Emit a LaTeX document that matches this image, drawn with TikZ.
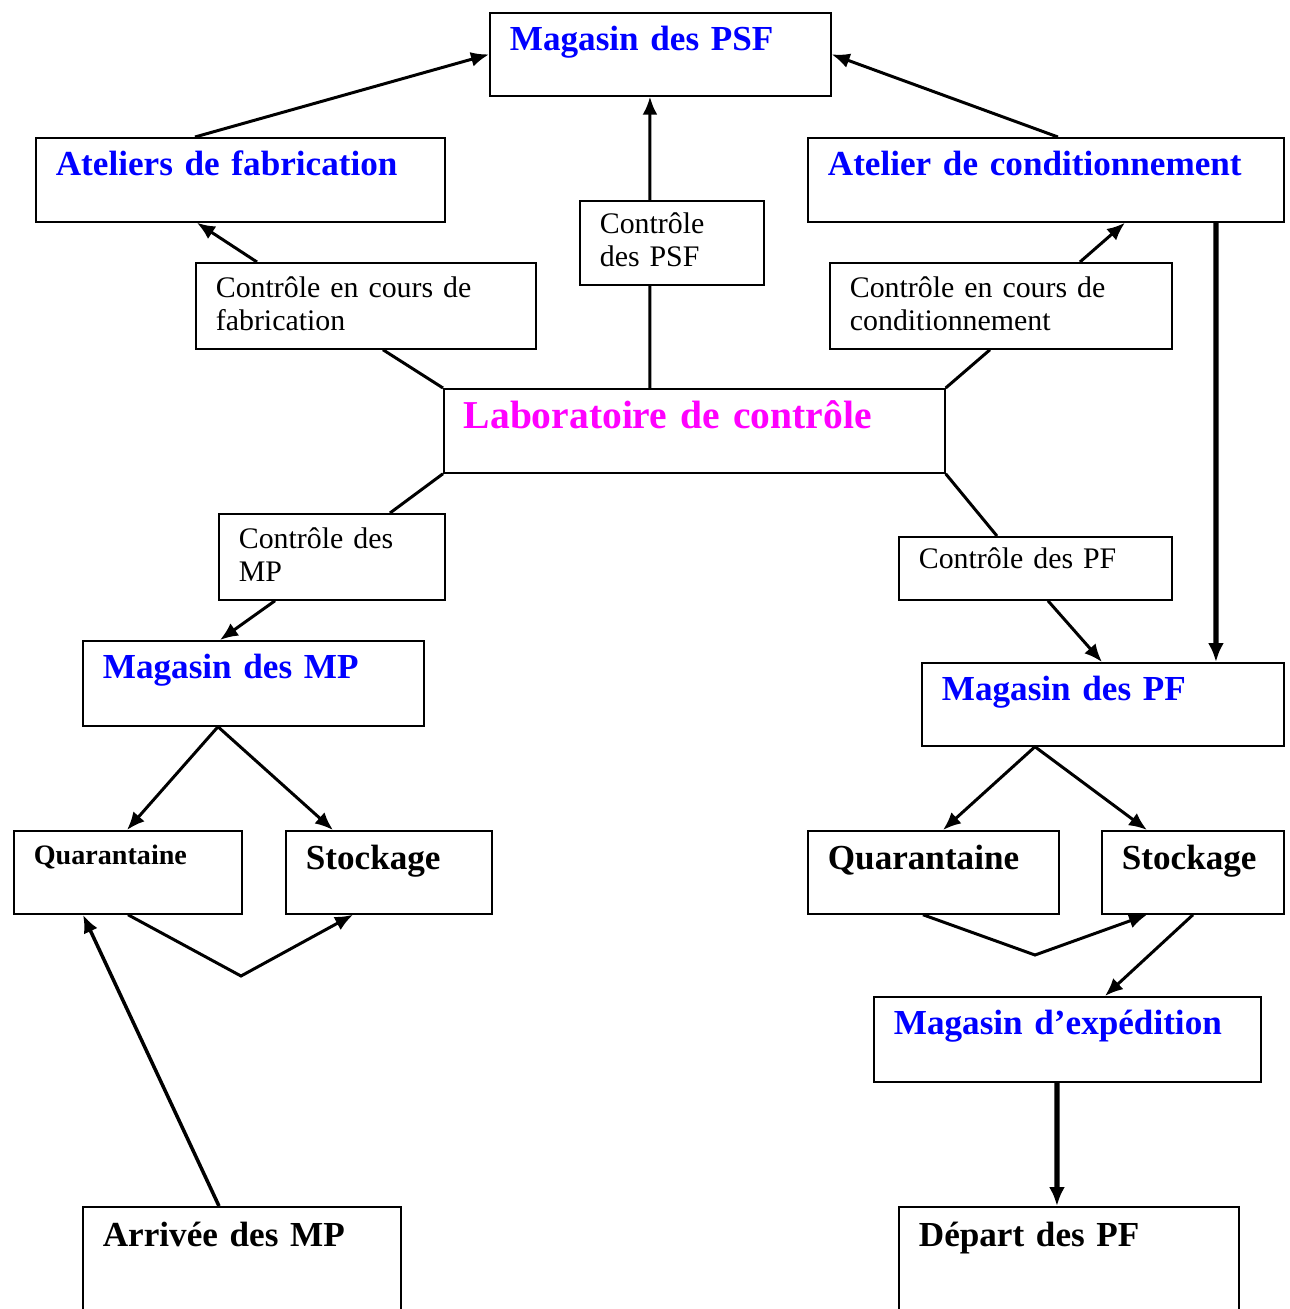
\documentclass[tikz,border=0pt]{standalone}
\usepackage{fontspec}
\setmainfont{Liberation Serif}
\usetikzlibrary{arrows.meta}
\definecolor{labpink}{RGB}{255,0,255}
\definecolor{storeblue}{RGB}{0,0,255}

\begin{document}
\begin{tikzpicture}[x=0.02cm, y=-0.02cm,
  box/.style={draw, fill=white, line width=1pt, anchor=north west,
    inner xsep=0.4cm, inner ysep=0pt, align=left},
  title/.style={font=\fontsize{20}{22}\selectfont\bfseries},
  bluetitle/.style={title, text=storeblue},
  plain/.style={font=\fontsize{17}{18.7}\selectfont},
  link/.style={line width=1.7pt},
  flow/.style={link, -{Latex[length=0.36cm,width=0.3cm]}},
  bigflow/.style={line width=3pt, -{Latex[length=0.38cm,width=0.32cm]}}]

\useasboundingbox (0,0) rectangle (1289,1309);

% --- boxes (top-left corner, then text area) ---
\node[box, bluetitle, text width=6.02cm, text height=0.76cm, text depth=0.90cm] (psf) at (489,12) {Magasin des PSF};
\node[box, bluetitle, text width=7.38cm, text height=0.76cm, text depth=0.92cm] (fab) at (35,137) {Ateliers de fabrication};
\node[box, bluetitle, text width=8.72cm, text height=0.76cm, text depth=0.92cm] (cond) at (807,137) {Atelier de conditionnement};
\node[box, plain, text width=2.88cm, text height=0.66cm, text depth=1.02cm] (cpsf) at (579,200) {Contrôle\\des PSF};
\node[box, plain, text width=6.00cm, text height=0.70cm, text depth=1.02cm] (cfab) at (195,262) {Contrôle en cours de\\fabrication};
\node[box, plain, text width=6.04cm, text height=0.70cm, text depth=1.02cm] (ccond) at (829,262) {Contrôle en cours de\\conditionnement};
\node[box, font=\fontsize{22.5}{25}\selectfont\bfseries, text=labpink, text width=9.22cm, text height=0.80cm, text depth=0.88cm] (lab) at (443,388) {Laboratoire de contrôle};
\node[box, plain, text width=3.72cm, text height=0.70cm, text depth=1.02cm] (cmp) at (218,513) {Contrôle des\\MP};
\node[box, plain, text width=4.66cm, text height=0.64cm, text depth=0.62cm] (cpf) at (898,536) {Contrôle des PF};
\node[box, bluetitle, text width=6.02cm, text height=0.76cm, text depth=0.94cm] (mmp) at (82,640) {Magasin des MP};
\node[box, bluetitle, text width=6.44cm, text height=0.76cm, text depth=0.90cm] (mpf) at (921,662) {Magasin des PF};
\node[box, font=\fontsize{16}{18}\selectfont\bfseries, text width=3.76cm, text height=0.68cm, text depth=0.98cm] (ql) at (13,830) {Quarantaine};
\node[box, title, text width=3.32cm, text height=0.78cm, text depth=0.88cm] (sl) at (285,830) {Stockage};
\node[box, title, text width=4.22cm, text height=0.78cm, text depth=0.88cm] (qr) at (807,830) {Quarantaine};
\node[box, title, text width=2.84cm, text height=0.78cm, text depth=0.88cm] (sr) at (1101,830) {Stockage};
\node[box, bluetitle, text width=6.94cm, text height=0.76cm, text depth=0.94cm] (exp) at (873,996) {Magasin d’expédition};
\node[box, title, text width=5.56cm, text height=0.80cm, text depth=1.88cm] (arr) at (82,1206) {Arrivée des MP};
\node[box, title, text width=6.00cm, text height=0.80cm, text depth=1.88cm] (dep) at (898,1206) {Départ des PF};

% bend points of the quarantine -> storage links
\coordinate (bendl) at (241,976);
\coordinate (bendr) at (1035,955);

% --- workshops feed the semi-finished products store ---
\draw[flow] ([xshift=3.2cm]fab.north west) -- (psf.west);
\draw[flow] ([xshift=5.02cm]cond.north west) -- (psf.east);

% --- laboratory controls ---
\draw[link] ([xshift=4.14cm]lab.north west) -- ([xshift=1.42cm]cpsf.south west);
\draw[flow] ([xshift=1.42cm]cpsf.north west) -- ([xshift=3.22cm]psf.south west);

\draw[link] (lab.north west) -- ([xshift=3.76cm]cfab.south west);
\draw[flow] ([xshift=1.24cm]cfab.north west) -- ([xshift=3.24cm]fab.south west);

\draw[link] (lab.north east) -- ([xshift=3.22cm]ccond.south west);
\draw[flow] ([xshift=5.02cm]ccond.north west) -- ([xshift=6.36cm]cond.south west);

\draw[link] (lab.south west) -- ([xshift=3.44cm]cmp.north west);
\draw[flow] ([xshift=1.14cm]cmp.south west) -- ([xshift=2.76cm]mmp.north west);

\draw[link] (lab.south east) -- ([xshift=1.98cm]cpf.north west);
\draw[flow] ([xshift=3.0cm]cpf.south west) -- ([xshift=3.62cm]mpf.north west);

% --- packaging to finished products store ---
\draw[bigflow] ([xshift=8.18cm]cond.south west) -- ([xshift=5.9cm]mpf.north west);

% --- raw materials side ---
\draw[flow] ([xshift=2.72cm]mmp.south west) -- ([xshift=2.28cm]ql.north west);
\draw[flow] ([xshift=2.72cm]mmp.south west) -- ([xshift=0.96cm]sl.north west);
\draw[flow] ([xshift=2.3cm]ql.south west) -- (bendl) -- ([xshift=1.36cm]sl.south west);
\draw[flow, line width=2pt] ([xshift=2.74cm]arr.north west) -- ([xshift=1.4cm]ql.south west);

% --- finished products side ---
\draw[flow] ([xshift=2.28cm]mpf.south west) -- ([xshift=2.72cm]qr.north west);
\draw[flow] ([xshift=2.28cm]mpf.south west) -- ([xshift=0.92cm]sr.north west);
\draw[flow] ([xshift=2.32cm]qr.south west) -- (bendr) -- ([xshift=0.92cm]sr.south west);
\draw[flow] ([xshift=1.84cm]sr.south west) -- ([xshift=4.64cm]exp.north west);
\draw[bigflow] ([xshift=3.68cm]exp.south west) -- ([xshift=3.18cm]dep.north west);

\end{tikzpicture}
\end{document}
